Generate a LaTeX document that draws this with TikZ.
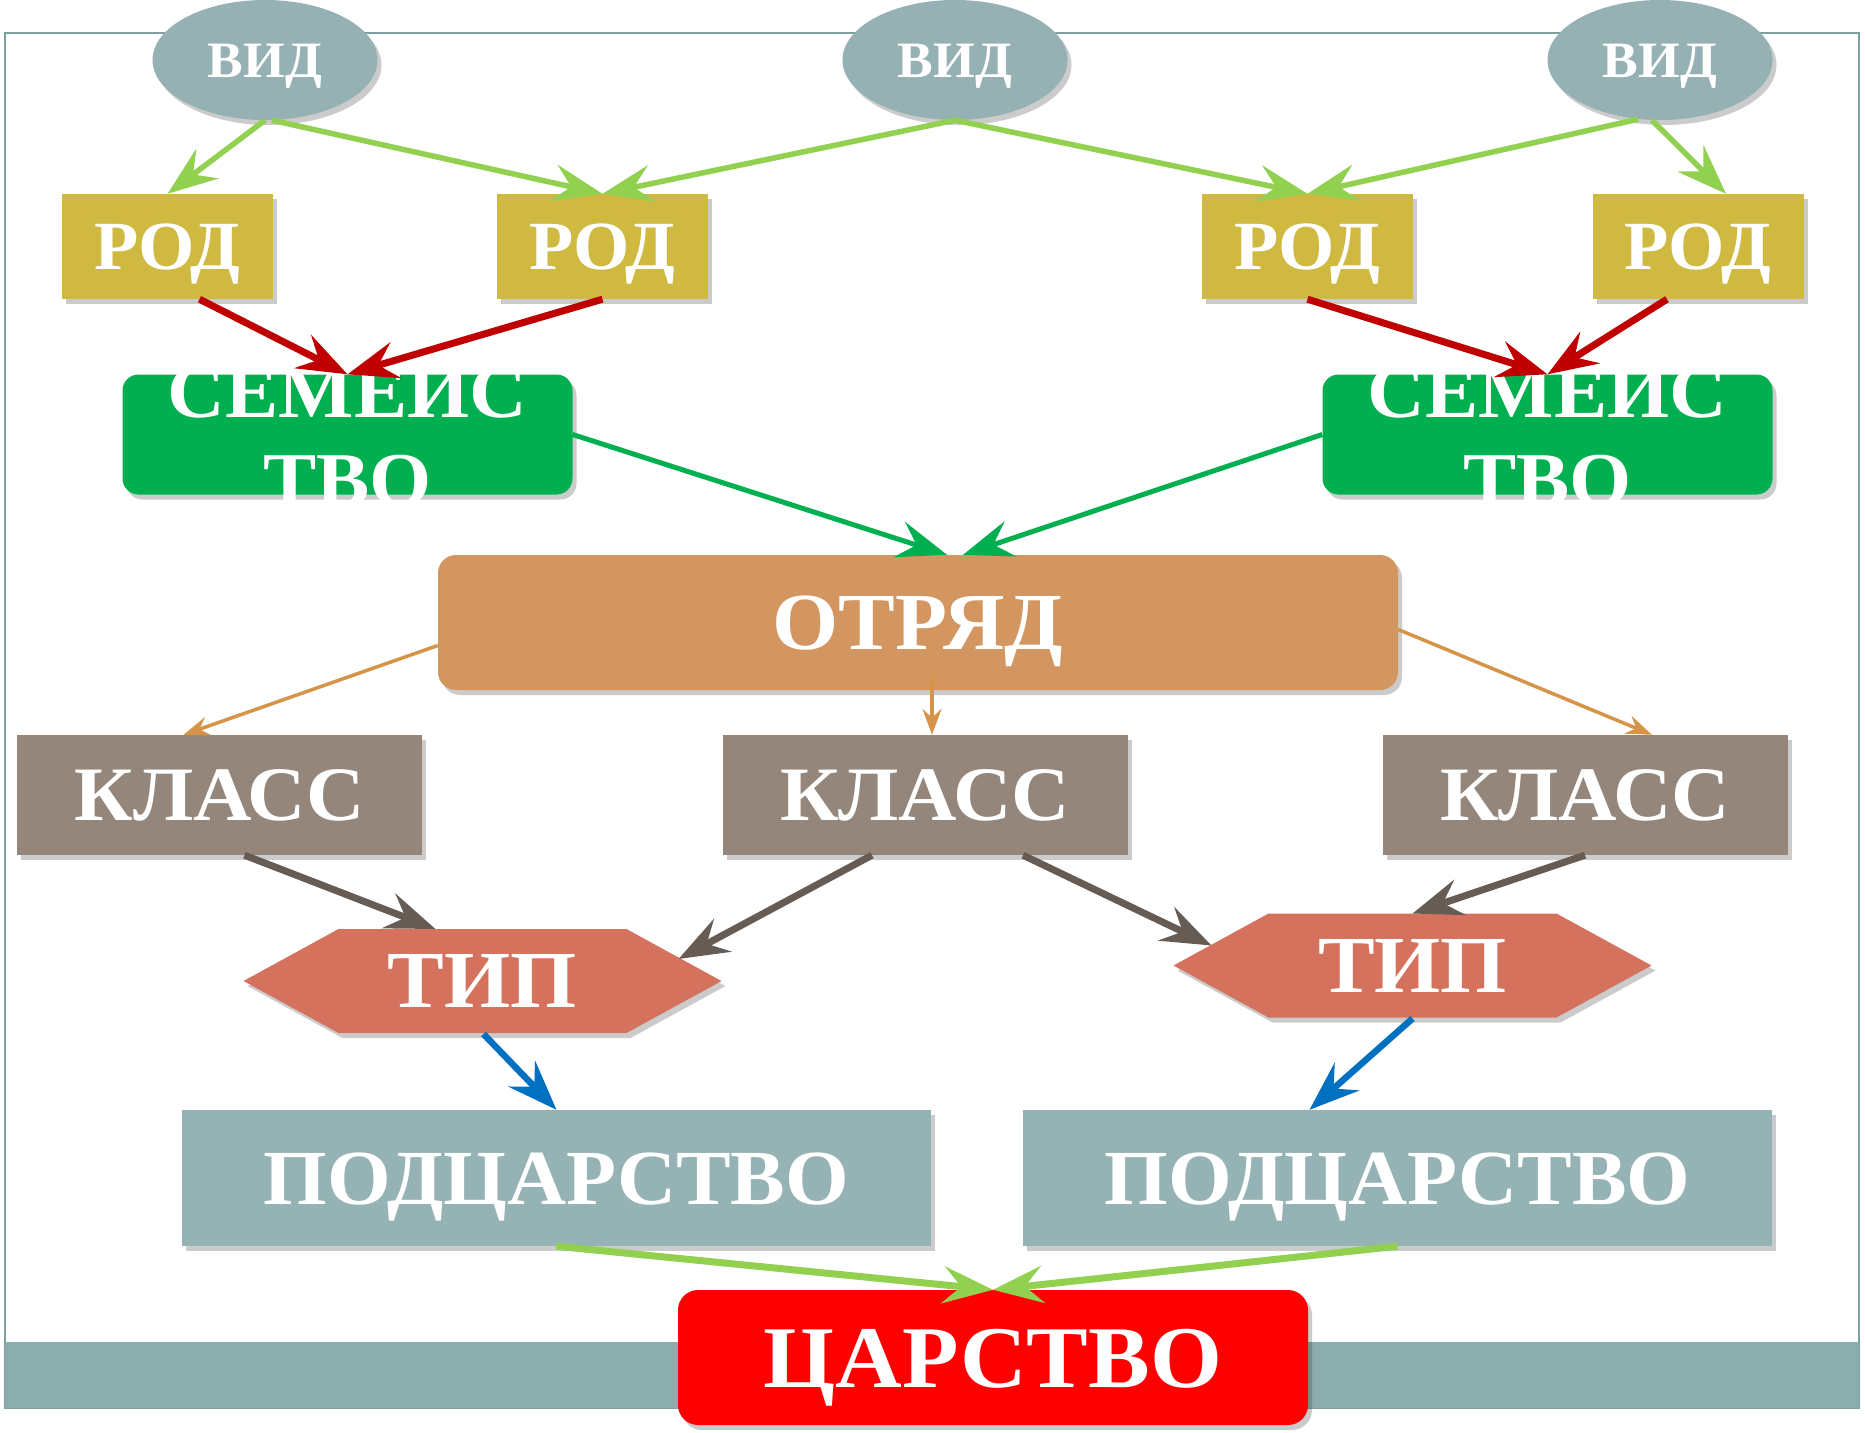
\documentclass[tikz,border=0pt]{standalone}
\usepackage{fontspec}
\setmainfont{Liberation Serif}[FakeStretch=1.05]
\usetikzlibrary{arrows.meta,shapes.geometric,shadows,calc}
\definecolor{vidc}{RGB}{149,177,179}
\definecolor{rodc}{RGB}{207,185,65}
\definecolor{famc}{RGB}{0,176,80}
\definecolor{otrc}{RGB}{211,150,96}
\definecolor{klc}{RGB}{148,134,122}
\definecolor{tipc}{RGB}{213,114,94}
\definecolor{podc}{RGB}{149,179,180}
\definecolor{tsc}{RGB}{255,0,0}
\definecolor{lgreen}{RGB}{146,208,80}
\definecolor{redar}{RGB}{192,0,0}
\definecolor{orar}{RGB}{214,148,72}
\definecolor{brar}{RGB}{103,92,83}
\definecolor{bluar}{RGB}{0,112,192}
\definecolor{framec}{RGB}{127,160,160}
\definecolor{bandc}{RGB}{140,173,173}
\begin{document}
\begin{tikzpicture}[x=1pt,y=-1pt,
  shad/.style={drop shadow={shadow xshift=4pt,shadow yshift=-5pt,opacity=0.25,fill=black!80}},
  base/.style={shad,text=white,inner sep=0pt},
  vidbox/.style={base,ellipse,fill=vidc,minimum width=225pt,minimum height=120pt,
    font=\fontsize{51}{51}\selectfont\bfseries,text height=34pt,text depth=0pt},
  rodbox/.style={base,rectangle,fill=rodc,minimum width=211pt,minimum height=105pt,
    font=\fontsize{69}{69}\selectfont\bfseries,text height=45pt,text depth=0pt},
  fambox/.style={base,rectangle,rounded corners=16pt,fill=famc,minimum width=450pt,minimum height=120pt,
    font=\fontsize{76}{88}\selectfont\bfseries,align=center,text height=141pt,text depth=0pt,
    inner xsep=0pt,inner ysep=-10.5pt},
  otrbox/.style={base,rectangle,rounded corners=18pt,fill=otrc,minimum width=960pt,minimum height=135pt,
    font=\fontsize{81}{81}\selectfont\bfseries,text height=53pt,text depth=0pt},
  klbox/.style={base,rectangle,fill=klc,minimum width=405pt,minimum height=120pt,
    font=\fontsize{77}{77}\selectfont\bfseries,text height=51pt,text depth=0pt},
  tiptext/.style={text=white,inner sep=0pt,
    font=\fontsize{81}{81}\selectfont\bfseries,text height=53pt,text depth=0pt},
  hexfill/.style={fill=tipc,shad},
  podbox/.style={base,rectangle,fill=podc,minimum width=749pt,minimum height=136pt,
    font=\fontsize{78}{78}\selectfont\bfseries,text height=52pt,text depth=0pt},
  tsbox/.style={base,rectangle,rounded corners=20pt,fill=tsc,minimum width=630pt,minimum height=135pt,
    font=\fontsize{88}{88}\selectfont\bfseries,text height=59pt,text depth=0pt},
  bigtip/.style={-{Stealth[length=50pt,width=37pt,inset=18pt]}},
  smalltip/.style={-{Stealth[length=26pt,width=19pt,inset=9pt]}},
  lgar/.style={draw=lgreen,line width=5.5pt,bigtip},
  redarrow/.style={draw=redar,line width=7pt,bigtip},
  famar/.style={draw=famc,line width=5pt,bigtip},
  orarrow/.style={draw=orar,line width=3.5pt,smalltip},
  brarrow/.style={draw=brar,line width=7pt,bigtip},
  bluarrow/.style={draw=bluar,line width=6.5pt,bigtip},
  lgbot/.style={draw=lgreen,line width=7pt,bigtip}
]
\useasboundingbox (0,0) rectangle (1865,1432);
\fill[white] (0,0) rectangle (1865,1432);
% frame and band
\draw[framec,line width=2pt] (5,33) rectangle (1859,1408);
\fill[bandc] (5,1342) rectangle (1859,1408);

% nodes
\node[vidbox] (v1) at (265,60) {ВИД};
\node[vidbox] (v2) at (955,60) {ВИД};
\node[vidbox] (v3) at (1660,60) {ВИД};

\node[rodbox] (r1) at (167.5,246.5) {РОД};
\node[rodbox] (r2) at (602.5,246.5) {РОД};
\node[rodbox] (r3) at (1307.5,246.5) {РОД};
\node[rodbox] (r4) at (1698,246.5) {РОД};

\node[fambox] (f1) at (347.5,434.5) {СЕМЕЙС\\ТВО};
\node[fambox] (f2) at (1547.5,434.5) {СЕМЕЙС\\ТВО};

\node[otrbox] (otr) at (918,622.5) {ОТРЯД};

\node[klbox] (k1) at (219.5,795) {КЛАСС};
\node[klbox] (k2) at (925,795) {КЛАСС};
\node[klbox] (k3) at (1585,795) {КЛАСС};

\coordinate (t1c) at (482.5,981);
\coordinate (t2c) at (1412.5,965.5);
\path[hexfill] ($(t1c)+(-239,0)$) -- ($(t1c)+(-144,-52)$) -- ($(t1c)+(144,-52)$)
  -- ($(t1c)+(239,0)$) -- ($(t1c)+(144,52)$) -- ($(t1c)+(-144,52)$) -- cycle;
\path[hexfill] ($(t2c)+(-239,0)$) -- ($(t2c)+(-144,-52)$) -- ($(t2c)+(144,-52)$)
  -- ($(t2c)+(239,0)$) -- ($(t2c)+(144,52)$) -- ($(t2c)+(-144,52)$) -- cycle;
\node[tiptext] (t1) at (t1c) {ТИП};
\node[tiptext] (t2) at (t2c) {ТИП};

\node[podbox] (p1) at (556.5,1178) {ПОДЦАРСТВО};
\node[podbox] (p2) at (1397.5,1178) {ПОДЦАРСТВО};

\node[tsbox] (ts) at (993,1357.5) {ЦАРСТВО};

% connectors
\draw[lgar] (v1.south) -- (r1.north);
\draw[lgar] ($(v1.south)+(7,0)$) -- (r2.north);
\draw[lgar] (v2.south) -- (r2.north);
\draw[lgar] (v2.south) -- (r3.north);
\draw[lgar] ($(v3.south)+(-22,-1)$) -- (r3.north);
\draw[lgar] ($(v3.south)+(-8,0)$) -- ($(r4.north)+(28,0)$);

\draw[redarrow] ($(r1.south)+(32,0)$) -- (f1.north);
\draw[redarrow] (r2.south) -- (f1.north);
\draw[redarrow] (r3.south) -- (f2.north);
\draw[redarrow] ($(r4.south)+(-31,0)$) -- (f2.north);

\draw[famar] (f1.east) -- ($(otr.north)+(29,0)$);
\draw[famar] (f2.west) -- ($(otr.north)+(45,0)$);

\draw[orarrow] ($(otr.west)+(0,23)$) -- ($(k1.north)+(-36,0)$);
\draw[orarrow] ($(otr.south)+(14,-13)$) -- ($(k2.north)+(7,0)$);
\draw[orarrow] ($(otr.east)+(0,7)$) -- ($(k3.north)+(67,0)$);

\draw[brarrow] ($(k1.south)+(25,0)$) -- ($(t1c)+(-47,-52)$);
\draw[brarrow] ($(k2.south)+(-53,0)$) -- ($(t1c)+(196,-22)$);
\draw[brarrow] ($(k2.south)+(98,0)$) -- ($(t2c)+(-201,-20)$);
\draw[brarrow] (k3.south) -- ($(t2c)+(0,-52)$);

\draw[bluarrow] ($(t1c)+(1,53)$) -- (p1.north);
\draw[bluarrow] ($(t2c)+(0,53)$) -- ($(p2.north)+(-88,0)$);

\draw[lgbot] (p1.south) -- (ts.north);
\draw[lgbot] (p2.south) -- (ts.north);
\end{tikzpicture}
\end{document}
